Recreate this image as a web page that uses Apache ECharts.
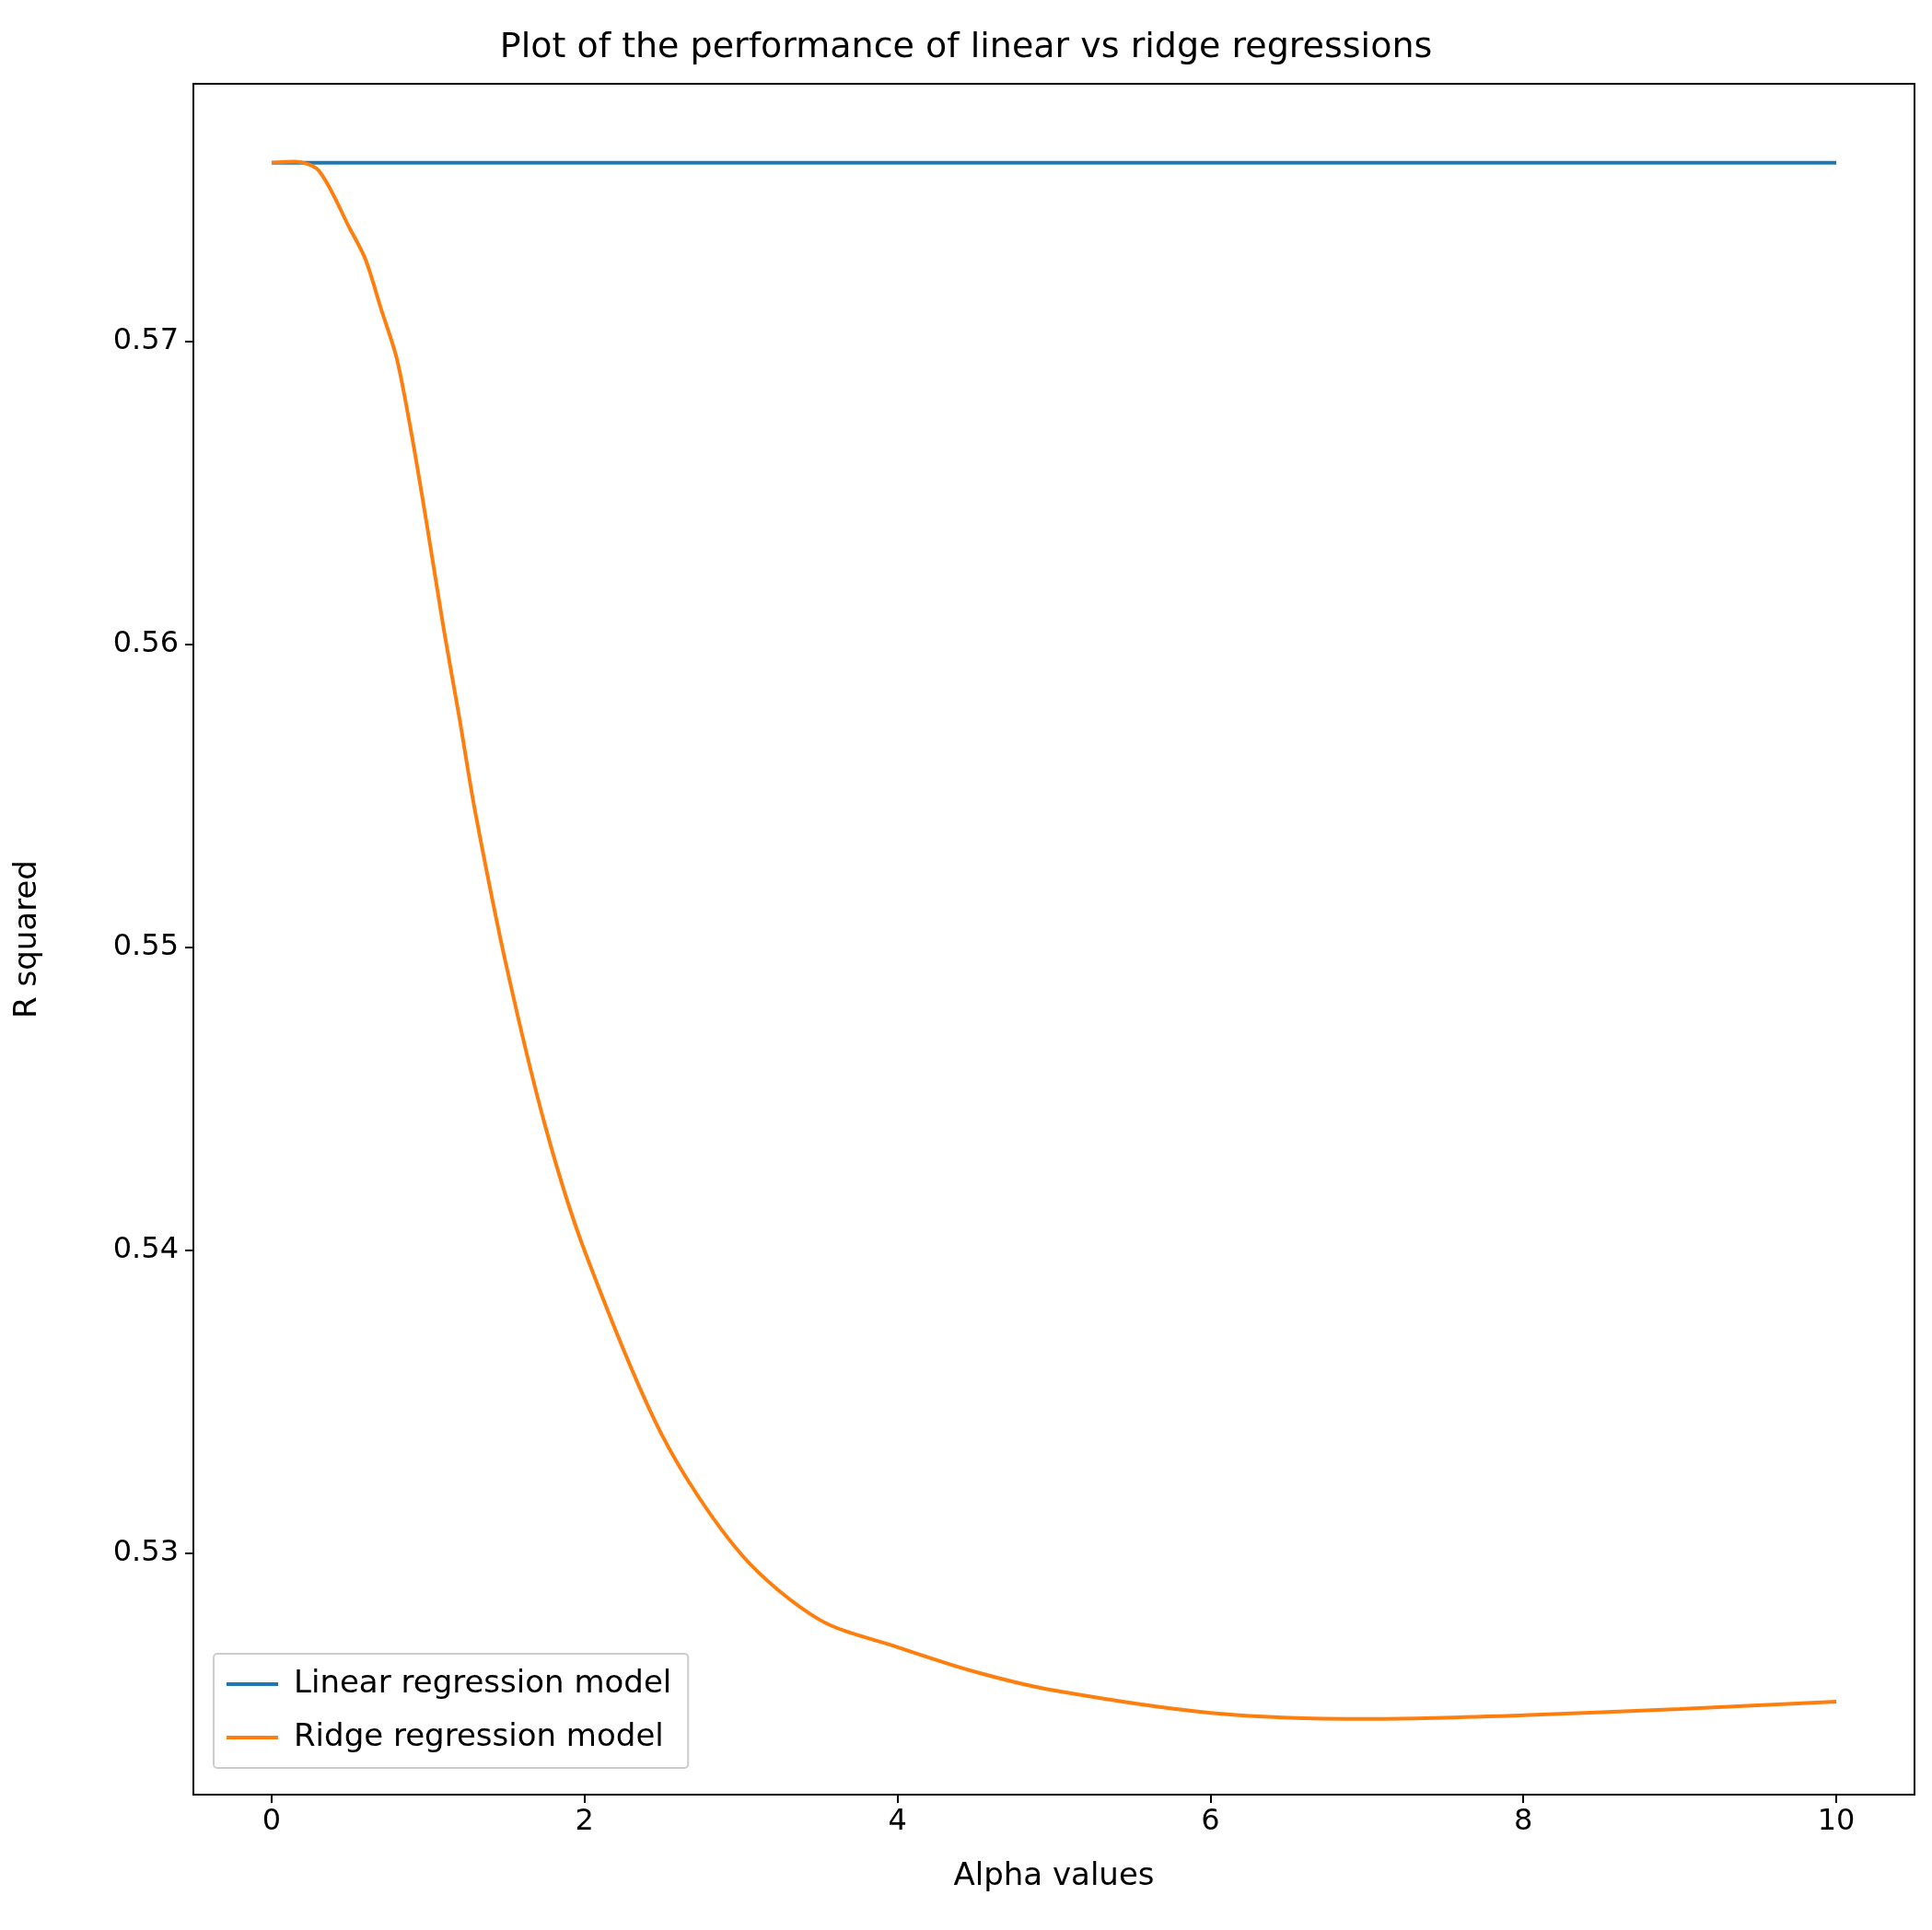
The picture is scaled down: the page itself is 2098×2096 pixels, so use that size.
<!DOCTYPE html><html><head><meta charset="utf-8"><script src="https://cdn.jsdelivr.net/npm/echarts@6/dist/echarts.min.js"></script>
<style>html,body{margin:0;padding:0;background:#fff}#c{width:2098px;height:2096px}</style></head><body><div id="c"></div><script>
const alphas=[0,0.15,0.3,0.5,0.6,0.7,0.8,0.9,1.0,1.1,1.2,1.3,1.5,1.75,2.0,2.5,3.0,3.5,4.0,4.5,5,6,7,8,9,10];
const ridge=[0.57589,0.57593,0.57564,0.57372,0.57270,0.57106,0.56943,0.56677,0.56370,0.56050,0.55757,0.55450,0.54939,0.54407,0.53998,0.53384,0.52996,0.52780,0.52689,0.52607,0.52546,0.52472,0.52452,0.52464,0.52485,0.52509];
const linearVal=0.57589;
const linX=[0,10];
const f='DejaVu Sans';
const ch=echarts.init(document.getElementById('c'));
ch.setOption({animation:false,
title:{text:'Plot of the performance of linear vs ridge regressions',left:'center',top:28,textStyle:{fontFamily:f,fontSize:38,fontWeight:'normal',color:'#000'}},
grid:{left:210,right:19,top:91,bottom:147},
legend:{left:232,top:1796,orient:'vertical',itemWidth:56,itemHeight:4,itemGap:24,padding:[16,18,16,14],borderColor:'#ccc',borderWidth:2,borderRadius:4,icon:'rect',textStyle:{fontFamily:f,fontSize:34,color:'#000',padding:[0,0,0,12]},data:['Linear regression model','Ridge regression model']},
xAxis:{type:'value',min:-0.5,max:10.5,interval:2,name:'Alpha values',nameLocation:'middle',nameGap:72,nameTextStyle:{fontFamily:f,fontSize:34,color:'#000'},
 axisLine:{onZero:false,lineStyle:{color:'#000',width:2}},splitLine:{show:false},
 axisLabel:{fontFamily:f,fontSize:32,color:'#000',margin:14,customValues:[0,2,4,6,8,10]},
 axisTick:{length:9,lineStyle:{color:'#000',width:2},customValues:[0,2,4,6,8,10]}},
yAxis:{type:'value',min:0.52202,max:0.5785,name:'R squared',nameLocation:'middle',nameGap:163,nameTextStyle:{fontFamily:f,fontSize:34,color:'#000'},
 axisLine:{onZero:false,lineStyle:{color:'#000',width:2}},splitLine:{show:false},
 axisLabel:{fontFamily:f,fontSize:32,color:'#000',margin:16,customValues:[0.53,0.54,0.55,0.56,0.57],formatter:v=>v.toFixed(2)},
 axisTick:{length:9,lineStyle:{color:'#000',width:2},customValues:[0.53,0.54,0.55,0.56,0.57]}},
series:[
{name:'Linear regression model',type:'line',showSymbol:false,color:'#1f77b4',lineStyle:{width:4},data:linX.map(x=>[x,linearVal])},
{name:'Ridge regression model',type:'line',smooth:0.3,showSymbol:false,color:'#ff7f0e',lineStyle:{width:4},data:alphas.map((a,i)=>[a,ridge[i]])}
],
graphic:[{type:'rect',shape:{x:210,y:91,width:1869,height:1858},style:{fill:'none',stroke:'#000',lineWidth:2},silent:true}]});
</script></body></html>
